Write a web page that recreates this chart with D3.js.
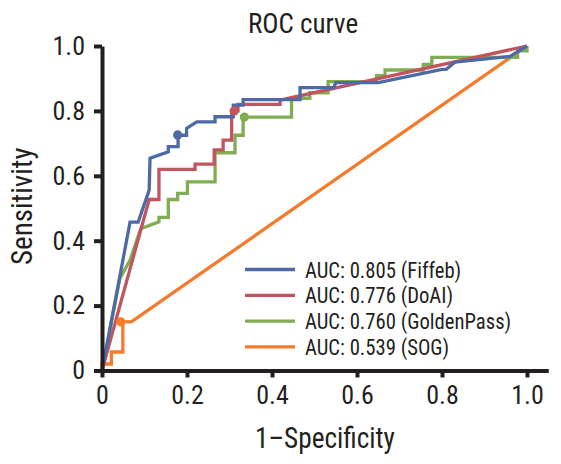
<!DOCTYPE html>
<html>
<head>
<meta charset="utf-8">
<script src="https://cdn.jsdelivr.net/npm/d3@7"></script>
<style>
  html, body { margin: 0; padding: 0; background: #fff; }
  svg { display: block; }
  text { font-family: "Liberation Sans Narrow", "Arial Narrow", "Roboto Condensed", Roboto, sans-serif; fill: #231f20; }
</style>
</head>
<body>
<svg id="chart" width="561" height="464"></svg>
<script>
// ---- data ----
const seriesNames = ["Fiffeb", "DoAI", "GoldenPass", "SOG"];
const aucValues = [0.805, 0.776, 0.760, 0.539];
const seriesColors = ["#4d6aa5", "#c0545f", "#80ad52", "#f47a2c"];

const fiffebPoints = [[0,0],[0.066,0.457],[0.085,0.457],[0.111,0.556],[0.113,0.654],[0.156,0.674],[0.156,0.69],[0.179,0.69],[0.179,0.725],[0.199,0.725],[0.199,0.746],[0.223,0.766],[0.266,0.766],[0.266,0.782],[0.309,0.782],[0.309,0.818],[0.332,0.818],[0.332,0.835],[0.466,0.835],[0.466,0.872],[0.545,0.872],[0.55,0.887],[0.65,0.887],[0.80,0.928],[0.81,0.928],[0.83,0.95],[0.96,0.968],[1,1]];
const doaiPoints = [[0,0],[0.111,0.527],[0.134,0.527],[0.134,0.62],[0.219,0.62],[0.219,0.636],[0.264,0.636],[0.264,0.68],[0.285,0.68],[0.285,0.71],[0.305,0.71],[0.305,0.80],[0.32,0.80],[0.32,0.82],[0.419,0.82],[0.419,0.833],[1,1]];
const goldenPassPoints = [[0,0],[0.042,0.283],[0.066,0.34],[0.091,0.437],[0.134,0.458],[0.134,0.472],[0.156,0.472],[0.156,0.527],[0.178,0.527],[0.178,0.546],[0.201,0.546],[0.201,0.581],[0.266,0.581],[0.266,0.671],[0.313,0.671],[0.313,0.725],[0.332,0.725],[0.332,0.781],[0.446,0.781],[0.446,0.839],[0.489,0.839],[0.489,0.856],[0.532,0.856],[0.532,0.89],[0.646,0.89],[0.646,0.909],[0.666,0.909],[0.666,0.926],[0.756,0.926],[0.756,0.943],[0.776,0.943],[0.776,0.965],[0.978,0.965],[0.978,0.985],[1,0.985],[1,1]];
const sogPoints = [[0,0],[0,0.02],[0.022,0.02],[0.022,0.057],[0.049,0.057],[0.049,0.15],[0.069,0.15],[1,1]];
const cutoffPoints = [[0.178,0.726],[0.311,0.80],[0.335,0.781],[0.044,0.15]];

const tickValues = [0, 0.2, 0.4, 0.6, 0.8, 1.0];
const tickLabels = ["0", "0.2", "0.4", "0.6", "0.8", "1.0"];
const titleText = "ROC curve";
const xTitle = "1\u2013Specificity";
const yTitle = "Sensitivity";

// ---- drawing ----
const svg = d3.select("#chart");
const x = d3.scaleLinear().domain([0, 1.05]).range([102, 548.25]);
const y = d3.scaleLinear().domain([0, 1]).range([370.5, 46]);

const allSeries = [fiffebPoints, doaiPoints, goldenPassPoints, sogPoints];
const order = [3, 2, 1, 0];

const line = d3.line().x(d => x(d[0])).y(d => y(d[1]));

const curves = svg.append("g");
order.forEach(i => {
  curves.append("path")
    .datum(allSeries[i])
    .attr("d", line)
    .attr("fill", "none")
    .attr("stroke", seriesColors[i])
    .attr("stroke-width", 3.3)
    .attr("stroke-linejoin", "miter");
});
curves.selectAll("circle.cut")
  .data(cutoffPoints)
  .join("circle")
  .attr("class", "cut")
  .attr("cx", d => x(d[0]))
  .attr("cy", d => y(d[1]))
  .attr("r", 4.6)
  .attr("fill", (d, i) => seriesColors[i]);

const fmt = (d) => tickLabels[tickValues.indexOf(d)];

const xAxis = svg.append("g")
  .attr("transform", `translate(0,${y(0)})`)
  .call(d3.axisBottom(x).tickValues(tickValues).tickFormat(fmt).tickSize(7).tickSizeOuter(0).tickPadding(8));
const yAxis = svg.append("g")
  .attr("transform", `translate(${x(0)},0)`)
  .call(d3.axisLeft(y).tickValues(tickValues).tickFormat(fmt).tickSize(8).tickSizeOuter(0).tickPadding(9));

[xAxis, yAxis].forEach(g => {
  g.select(".domain").attr("stroke", "#231f20").attr("stroke-width", 4);
  g.selectAll(".tick line").attr("stroke", "#231f20").attr("stroke-width", 4);
  g.selectAll(".tick text").style("font-size", "26px").attr("fill", "#231f20");
});
xAxis.selectAll(".tick text").attr("dy", "0.72em");

function squeeze(sel, factor) {
  const w = sel.node().getComputedTextLength();
  sel.attr("textLength", w * factor).attr("lengthAdjust", "spacingAndGlyphs");
}

svg.append("text")
  .attr("x", 303).attr("y", 33)
  .attr("text-anchor", "middle")
  .style("font-size", "27px")
  .text(titleText);

const xt = svg.append("text")
  .attr("x", 325).attr("y", 448)
  .attr("text-anchor", "middle")
  .style("font-size", "29px")
  .text(xTitle);
squeeze(xt, 0.94);

svg.append("text")
  .attr("transform", `translate(32,${(y(0) + y(1)) / 2 - 2}) rotate(-90)`)
  .attr("text-anchor", "middle")
  .style("font-size", "29px")
  .text(yTitle);

const legend = svg.append("g");
seriesNames.forEach((name, i) => {
  const ry = 269.5 + i * 25.8;
  legend.append("line")
    .attr("x1", 245).attr("x2", 295)
    .attr("y1", ry).attr("y2", ry)
    .attr("stroke", seriesColors[i])
    .attr("stroke-width", 3.3);
  const t = legend.append("text")
    .attr("x", 305).attr("y", ry + 8)
    .style("font-size", "22px")
    .text(`AUC: ${aucValues[i].toFixed(3)} (${name})`);
  squeeze(t, 0.94);
});
</script>
</body>
</html>
